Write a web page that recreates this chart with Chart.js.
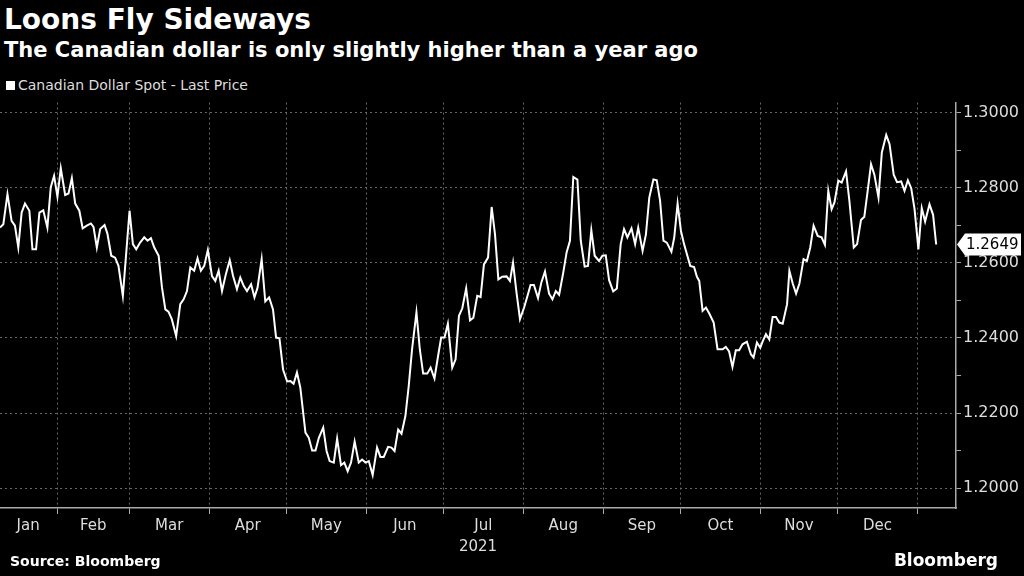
<!DOCTYPE html>
<html>
<head>
<meta charset="utf-8">
<script src="https://cdn.jsdelivr.net/npm/chart.js@4"></script>
<style>
  body { margin: 0; background: #000; width: 1024px; height: 576px; overflow: hidden; font-family: "DejaVu Sans", sans-serif; color: #fff; position: relative; }
  #title { position: absolute; left: 4px; top: 3px; font-size: 28px; font-weight: bold; }
  #sub { position: absolute; left: 4px; top: 38px; font-size: 21px; font-weight: bold; }
  #legend { position: absolute; left: 6px; top: 77px; font-size: 14px; color: #ddd; }
  #legend span { display: inline-block; width: 9px; height: 9px; background: #fff; margin-right: 3px; }
  #src { position: absolute; left: 10px; top: 553px; font-size: 14px; font-weight: bold; }
  #brand { position: absolute; right: 26px; top: 550px; font-size: 17px; font-weight: bold; }
  #wrap { position: absolute; left: 0; top: 91px; width: 1024px; height: 469px; }
</style>
</head>
<body>
<div id="title">Loons Fly Sideways</div>
<div id="sub">The Canadian dollar is only slightly higher than a year ago</div>
<div id="legend"><span></span>Canadian Dollar Spot - Last Price</div>
<div id="wrap"><canvas id="c"></canvas></div>
<div id="src">Source: Bloomberg</div>
<div id="brand">Bloomberg</div>
<script>
// Day of year 2021 (Jan 1 = 0) and USD/CAD spot
const days = [8.8,10.1,11.7,13.3,14.6,15.9,17.2,18.5,20.2,21.4,22.8,24.1,25.6,27.2,28.5,29.8,31.1,32.4,34.1,35.4,36.7,38.0,39.6,40.9,42.5,44.1,45.1,46.4,47.7,49.4,50.5,52.0,53.5,54.8,56.5,59.1,60.4,61.7,63.2,64.8,66.1,67.4,68.7,70.4,71.7,73.0,74.2,75.5,77.2,78.8,80.1,81.4,82.7,84.2,85.5,86.8,88.1,89.5,91.1,92.4,93.7,95.0,96.5,98.0,99.3,100.8,102.1,103.4,104.7,106.3,107.6,108.8,110.4,111.8,113.3,114.8,116.0,117.3,118.7,120.3,121.6,122.8,124.1,125.4,127.4,128.7,130.0,131.3,132.6,134.3,135.6,136.8,
  138.4,139.7,141.2,142.5,143.8,145.1,146.5,148.1,149.4,150.7,152.0,153.5,155.2,156.5,157.8,159.5,160.8,162.0,163.4,164.7,166.2,167.5,168.8,170.5,171.8,173.1,174.7,176.0,177.5,178.8,180.1,181.4,182.7,184.4,185.7,187.0,188.3,189.8,191.3,192.6,194.1,195.4,196.7,198.3,199.7,201.0,202.3,203.8,205.5,206.8,208.0,209.4,210.7,212.3,213.6,214.8,216.1,217.7,219.0,220.4,222.0,223.3,224.6,225.9,227.5,228.8,230.1,231.4,233.0,234.3,235.8,237.1,238.4,239.7,241.4,242.7,244.0,245.3,246.9,248.3,249.8,251.1,252.4,254.0,255.4,256.6,258.3,259.6,260.9,
  262.5,263.8,265.1,266.4,267.7,269.5,270.6,271.9,273.2,274.4,276.8,278.3,279.4,280.3,281.6,282.9,284.2,285.9,287.4,289.4,290.6,291.9,293.2,294.5,295.8,297.1,298.8,300.4,301.4,302.7,304.0,304.9,306.2,307.5,308.8,310.1,311.4,312.7,314.4,315.3,316.6,317.9,319.2,320.8,322.1,323.4,324.7,326.3,327.8,329.1,330.4,331.7,332.8,334.3,335.6,337.3,338.6,340.3,341.6,343.1,344.4,345.7,347.0,348.3,349.9,351.2,352.9,354.2,355.8,357.1,358.7,360.0,361.3,362.6,363.9,365.4,366.7,368.0,369.7,371.1,372.3];
const prices = [1.2694,1.2703,1.2783,1.2712,1.2699,1.2641,1.2734,1.2758,1.2739,1.2636,1.2636,1.2734,1.2740,1.2694,1.2801,1.2832,1.2776,1.2852,1.2781,1.2785,1.2826,1.2758,1.2739,1.2692,1.2699,1.2705,1.2696,1.2641,1.2690,1.2701,1.2678,1.2619,1.2614,1.2592,1.2512,1.2739,1.2650,1.2636,1.2654,1.2668,1.2659,1.2666,1.2641,1.2619,1.2534,1.2476,1.2470,1.2450,1.2405,1.2490,1.2503,1.2525,1.2588,1.2579,1.2612,1.2579,1.2592,1.2634,1.2565,1.2552,1.2579,1.2525,1.2570,1.2607,1.2565,1.2530,1.2561,1.2539,1.2525,1.2543,1.2508,1.2534,1.2610,1.2497,1.2508,1.2476,1.2401,1.2399,1.2316,1.2284,1.2285,1.2278,1.2308,1.2268,1.2148,1.2134,1.2100,1.2100,1.2134,1.2161,1.2099,1.2072,
  1.2068,1.2132,1.2061,1.2068,1.2045,1.2068,1.2124,1.2068,1.2076,1.2068,1.2072,1.2035,1.2108,1.2083,1.2083,1.2110,1.2108,1.2099,1.2156,1.2145,1.2192,1.2272,1.2370,1.2468,1.2370,1.2305,1.2305,1.2321,1.2292,1.2348,1.2401,1.2401,1.2438,1.2321,1.2343,1.2459,1.2479,1.2532,1.2447,1.2454,1.2512,1.2509,1.2596,1.2614,1.2749,1.2676,1.2556,1.2563,1.2564,1.2552,1.2601,1.2518,1.2450,1.2481,1.2512,1.2541,1.2541,1.2506,1.2548,1.2577,1.2518,1.2503,1.2525,1.2515,1.2574,1.2628,1.2659,1.2829,1.2822,1.2659,1.2590,1.2592,1.2687,1.2619,1.2605,1.2619,1.2620,1.2554,1.2524,1.2532,1.2650,1.2690,1.2668,1.2692,1.2650,1.2694,1.2632,1.2676,1.2774,
  1.2822,1.2820,1.2765,1.2659,1.2654,1.2630,1.2668,1.2758,1.2685,1.2650,1.2592,1.2589,1.2563,1.2552,1.2472,1.2481,1.2465,1.2441,1.2370,1.2370,1.2376,1.2364,1.2323,1.2367,1.2367,1.2383,1.2390,1.2356,1.2348,1.2388,1.2374,1.2390,1.2410,1.2396,1.2456,1.2456,1.2441,1.2438,1.2490,1.2579,1.2545,1.2518,1.2545,1.2610,1.2605,1.2641,1.2699,1.2672,1.2668,1.2648,1.2792,1.2743,1.2761,1.2819,1.2814,1.2844,1.2765,1.2641,1.2650,1.2714,1.2723,1.2792,1.2863,1.2835,1.2774,1.2894,1.2941,1.2916,1.2835,1.2815,1.2817,1.2792,1.2820,1.2799,1.2743,1.2636,1.2746,1.2710,1.2756,1.2728,1.2649];

const monthStarts = [31, 59, 90, 120, 151, 181, 212, 243, 273, 304, 334, 365];
const monthMids = [19.7, 45, 74.5, 105, 135.5, 166, 196.5, 227.5, 258, 288.5, 319, 349.5];
const monthLabels = ["Jan","Feb","Mar","Apr","May","Jun","Jul","Aug","Sep","Oct","Nov","Dec"];
const yTicks = [1.20,1.21,1.22,1.23,1.24,1.25,1.26,1.27,1.28,1.29,1.30];
const lastLabel = "1.2649";

const xTicks = [];
monthStarts.forEach(v => xTicks.push({ value: v, boundary: true }));
monthMids.forEach((v, i) => xTicks.push({ value: v, label: monthLabels[i] }));
xTicks.sort((a, b) => a.value - b.value);

const badge = {
  id: "badge",
  afterDraw(chart) {
    const { ctx } = chart;
    const y = chart.scales.y.getPixelForValue(prices[prices.length - 1]);
    const x = chart.chartArea.right + 1;
    ctx.save();
    ctx.fillStyle = "#fff";
    ctx.beginPath();
    ctx.moveTo(x, y);
    ctx.lineTo(x + 8, y - 11);
    ctx.lineTo(x + 64, y - 11);
    ctx.lineTo(x + 64, y + 11);
    ctx.lineTo(x + 8, y + 11);
    ctx.closePath();
    ctx.fill();
    ctx.fillStyle = "#000";
    ctx.font = "15px 'DejaVu Sans'";
    ctx.textBaseline = "middle";
    ctx.fillText(lastLabel, x + 9, y + 1);
    ctx.restore();
  }
};

new Chart(document.getElementById("c"), {
  type: "line",
  data: {
    datasets: [{
      data: days.map((d, i) => ({ x: d, y: prices[i] })),
      borderColor: "#fff",
      borderWidth: 2,
      pointRadius: 0,
      tension: 0
    }]
  },
  options: {
    responsive: true,
    maintainAspectRatio: false,
    animation: false,
    layout: { padding: { top: 5, right: 3, left: 0, bottom: 0 } },
    plugins: { legend: { display: false }, tooltip: { enabled: false } },
    scales: {
      x: {
        type: "linear",
        min: 8.8, max: 380,
        afterBuildTicks: s => { s.ticks = xTicks.map(t => ({ value: t.value })); },
        ticks: {
          autoSkip: false, maxRotation: 0, color: "#ddd",
          font: { size: 15, family: "DejaVu Sans" },
          callback: (v, i) => xTicks[i].label || ""
        },
        grid: {
          color: c => (xTicks[c.index] && xTicks[c.index].boundary) ? "#666" : "transparent",
          tickColor: c => (xTicks[c.index] && xTicks[c.index].boundary) ? "#aaa" : "transparent",
          tickLength: 6,
          lineWidth: 1
        },
        border: { color: "#aaa", width: 1.5, dash: [2, 3] },
        title: { display: true, text: "2021", color: "#ddd", font: { size: 15, family: "DejaVu Sans" }, padding: { top: 0 } }
      },
      y: {
        position: "right",
        min: 1.1947, max: 1.3027,
        afterBuildTicks: s => { s.ticks = yTicks.map(v => ({ value: v })); },
        ticks: {
          color: "#ddd", font: { size: 16, family: "DejaVu Sans" }, padding: 2,
          callback: (v, i) => i % 2 === 0 ? v.toFixed(4) : ""
        },
        grid: {
          color: c => c.index % 2 === 0 ? "#666" : "transparent",
          tickColor: "#aaa",
          tickLength: 5
        },
        border: { color: "#aaa", width: 1.5, dash: [2, 3] }
      }
    }
  },
  plugins: [badge]
});
</script>
</body>
</html>
